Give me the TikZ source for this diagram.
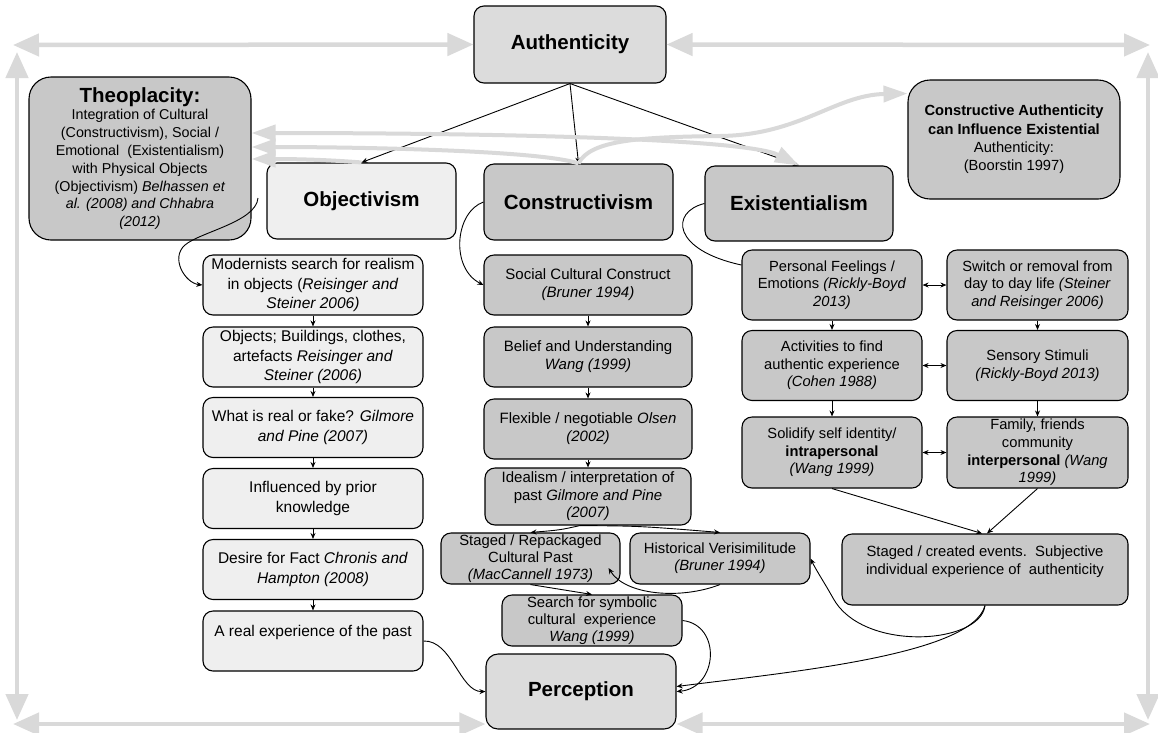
\documentclass[tikz,border=0pt]{standalone}
\usepackage{fontspec}
\setmainfont{Liberation Sans}
\usetikzlibrary{arrows.meta}
\definecolor{gA}{HTML}{DCDCDC}
\definecolor{gL}{HTML}{EFEFEF}
\definecolor{gM}{HTML}{C8C8C8}
\definecolor{gArr}{HTML}{D9D9D9}
\begin{document}
\begin{tikzpicture}[x=1pt,y=-1pt,
  bx/.style={draw=black, line width=1.1pt, rounded corners=10pt, align=center, inner sep=1pt, font=\fontsize{14.7}{18}\selectfont},
  big/.style={bx, font=\bfseries\fontsize{20.5}{24}\selectfont},
  lt/.style={fill=gL}, md/.style={fill=gM}, ah/.style={fill=gA},
  con/.style={draw=black, line width=0.9pt, -{Stealth[length=6pt,width=5pt]}},
  plain/.style={draw=black, line width=0.9pt},
  dcon/.style={draw=black, line width=0.9pt, {Stealth[length=6pt,width=5pt]}-{Stealth[length=6pt,width=5pt]}},
  brd/.style={draw=gArr, line width=4.5pt, {Triangle[length=26pt,width=22pt]}-{Triangle[length=26pt,width=22pt]}},
  garr/.style={draw=gArr, line width=4pt, -{Triangle[length=24pt,width=16pt]}},
  gdarr/.style={draw=gArr, line width=4pt, {Triangle[length=24pt,width=16pt]}-{Triangle[length=24pt,width=16pt]}},
  c1w/.style={minimum width=220pt, minimum height=60pt, font=\fontsize{15.5}{19.5}\selectfont},
  c2w/.style={minimum width=208pt, minimum height=60pt, font=\fontsize{15}{18}\selectfont},
  c3w/.style={minimum width=180pt, minimum height=70pt, font=\fontsize{14.7}{17.6}\selectfont},
  sw/.style={minimum width=180pt, minimum height=51pt, font=\fontsize{14.8}{17}\selectfont}
]
\fill[white] (0,0) rectangle (1158,732);
\useasboundingbox (0,0) rectangle (1158,732);

% frame coordinates
\coordinate (tlh) at (13,45);
\coordinate (trh) at (1150,45);
\coordinate (tlv) at (17,52);
\coordinate (blv) at (17,720);
\coordinate (trv) at (1148,52);
\coordinate (brv) at (1148,720);
\coordinate (blh) at (13,724);
\coordinate (brh) at (1150,724);

% top nodes
\node[big,ah,minimum width=192pt,minimum height=77pt] (auth) at (570,44.5) {Authenticity};
\node[bx,md,rounded corners=22pt,minimum width=222pt,minimum height=163pt,font=\fontsize{14.3}{17.8}\selectfont] (theo) at (140,158.5)
 {\textbf{\fontsize{20.5}{22}\selectfont Theoplacity:}\\Integration of Cultural\\(Constructivism), Social /\\Emotional\ \ (Existentialism)\\with Physical Objects\\(Objectivism) \textit{Belhassen et}\\\textit{al. (2008) and Chhabra}\\\textit{(2012)}};
\node[bx,md,rounded corners=22pt,minimum width=212pt,minimum height=119pt,font=\fontsize{14.7}{18.3}\selectfont] (ca) at (1014,139.5)
 {\textbf{Constructive Authenticity}\\\textbf{can Influence Existential}\\Authenticity:\\(Boorstin 1997)};
\node[big,lt,minimum width=189pt,minimum height=76pt] (obj) at (361.5,201) {Objectivism};
\node[big,md,minimum width=189pt,minimum height=76pt] (cons) at (578.5,202) {Constructivism};
\node[big,md,minimum width=188pt,minimum height=75pt] (exi) at (799,203.5) {Existentialism};

% column 1
\node[bx,lt,c1w] (m1) at (313,285) {Modernists search for realism\\in objects (\textit{Reisinger and}\\\textit{Steiner 2006)}};
\node[bx,lt,c1w] (m2) at (313,357) {Objects; Buildings, clothes,\\artefacts \textit{Reisinger and}\\\textit{Steiner (2006)}};
\node[bx,lt,c1w] (m3) at (313,427.5) {What is real or fake? \textit{Gilmore}\\\textit{and Pine (2007)}};
\node[bx,lt,c1w] (m4) at (313,498.5) {Influenced by prior\\knowledge};
\node[bx,lt,c1w] (m5) at (313,569.5) {Desire for Fact \textit{Chronis and}\\\textit{Hampton (2008)}};
\node[bx,lt,c1w] (m6) at (313,641) {A real experience of the past\\\mbox{}};

% column 2
\node[bx,md,c2w] (c1) at (588,285) {Social Cultural Construct\\\textit{(Bruner 1994)}};
\node[bx,md,c2w] (c2) at (588,357) {Belief and Understanding\\\textit{Wang (1999)}};
\node[bx,md,c2w] (c3) at (588,429) {Flexible / negotiable \textit{Olsen}\\\textit{(2002)}};
\node[bx,md,minimum width=206pt,minimum height=57pt,font=\fontsize{15}{17.5}\selectfont] (c4) at (588,496.5) {Idealism / interpretation of\\past \textit{Gilmore and Pine}\\\textit{(2007)}};
\node[bx,md,sw,minimum width=179pt] (st) at (530.5,558.5) {Staged / Repackaged\\Cultural Past\\\textit{(MacCannell 1973)}};
\node[bx,md,sw] (hv) at (720,558.5) {Historical Verisimilitude\\\textit{(Bruner 1994)}};
\node[bx,md,sw] (sr) at (592,620.5) {Search for symbolic\\cultural\ \ experience\\\textit{Wang (1999)}};
\node[big,ah,rounded corners=12pt,minimum width=190pt,minimum height=75pt] (perc) at (581,691.5) {Perception};

% column 3
\node[bx,md,c3w] (e1) at (832,285) {Personal Feelings /\\Emotions \textit{(Rickly-Boyd}\\\textit{2013)}};
\node[bx,md,c3w,minimum width=181pt] (e2) at (1037.5,285) {Switch or removal from\\day to day life \textit{(Steiner}\\\textit{and Reisinger 2006)}};
\node[bx,md,c3w] (e3) at (832,365.5) {Activities to find\\authentic experience\\\textit{(Cohen 1988)}};
\node[bx,md,c3w,minimum width=181pt] (e4) at (1037.5,365.5) {Sensory Stimuli\\\textit{(Rickly-Boyd 2013)}};
\node[bx,md,c3w,minimum height=71pt] (e5) at (832,452.5) {Solidify self identity/\\\textbf{intrapersonal}\\\textit{(Wang 1999)}};
\node[bx,md,c3w,minimum width=181pt,minimum height=71pt] (e6) at (1037.5,452.5) {Family, friends\\community\\\textbf{interpersonal} \textit{(Wang}\\\textit{1999)}};
\node[bx,md,minimum width=286pt,minimum height=71pt,font=\fontsize{14.8}{18}\selectfont] (sc) at (985,569.5) {Staged / created events.\ \ Subjective\\individual experience of\ \ authenticity\\\mbox{}};

% black connectors
\draw[con] (auth.south) -- (obj.north);
\draw[con] (auth.south) -- (cons.north);
\draw[con] (auth.south) -- (exi.north);

\coordinate (ts) at (258,198);
\draw[con] (ts) .. controls (256,222) and (200,232) .. (185,245) .. controls (170,258) and (185,283) .. (m1.west);
\draw[con] (cons.west) .. controls (455,212) and (450,268) .. (c1.west);
\draw[plain] (exi.west) .. controls (670,212) and (672,250) .. ([yshift=20pt]e1.west);

\draw[con] (m1.south) -- (m2.north);
\draw[con] (m2.south) -- (m3.north);
\draw[con] (m3.south) -- (m4.north);
\draw[con] (m4.south) -- (m5.north);
\draw[con] (m5.south) -- (m6.north);

\draw[con] (c1.south) -- (c2.north);
\draw[con] (c2.south) -- (c3.north);
\draw[con] (c3.south) -- (c4.north);
\draw[con] ([xshift=-8pt]c4.south) .. controls (560,530) .. (st.north);
\draw[con] ([xshift=-8pt]c4.south) .. controls (640,526) .. (hv.north);
\draw[con] (st.south) -- (sr.north);
\draw[con] (hv.south) .. controls (680,600) and (625,595) .. ([xshift=-12pt,yshift=-9.5pt]st.east);
\draw[con] (sr.east) .. controls (722,625) and (718,688) .. (perc.east);
\draw[con] (m6.east) .. controls (452,640) and (460,692) .. (perc.west);

\draw[dcon] (e1.east) -- (e2.west);
\draw[dcon] (e3.east) -- (e4.west);
\draw[dcon] (e5.east) -- (e6.west);
\draw[con] (e1.south) -- (e3.north);
\draw[con] (e2.south) -- (e4.north);
\draw[con] (e3.south) -- (e5.north);
\draw[con] (e4.south) -- (e6.north);
\draw[con] (e5.south) -- ([xshift=-3pt]sc.north);
\draw[con] (e6.south) -- ([xshift=2pt]sc.north);
\draw[con] (sc.south) .. controls (980,645) and (862,652) .. (833,598) .. controls (824,582) and (816,570) .. (hv.east);
\draw[con] (sc.south) .. controls (972,655) and (790,672) .. ([yshift=5pt]perc.east);

% gray arrows
\draw[garr] (cons.north) .. controls (590,140) and (640,137) .. (720,136) .. controls (800,135) and (835,95) .. ([yshift=46pt]ca.west);
\draw[gdarr] ([yshift=25.5pt]theo.east) .. controls (480,133) and (745,138) .. (exi.north);
\draw[garr] (cons.north) .. controls (540,150) and (350,147) .. ([yshift=11.5pt]theo.east);
\draw[garr] (obj.north) .. controls (330,160) and (300,159) .. ([yshift=-0.5pt]theo.east);

% frame
\draw[brd] (auth.west) -- (tlh);
\draw[brd] (auth.east) -- (trh);
\draw[brd] (tlv) -- (blv);
\draw[brd] (trv) -- (brv);
\draw[brd] (blh) -- (perc.west |- blh);
\draw[brd] (perc.east |- brh) -- (brh);
\end{tikzpicture}
\end{document}
